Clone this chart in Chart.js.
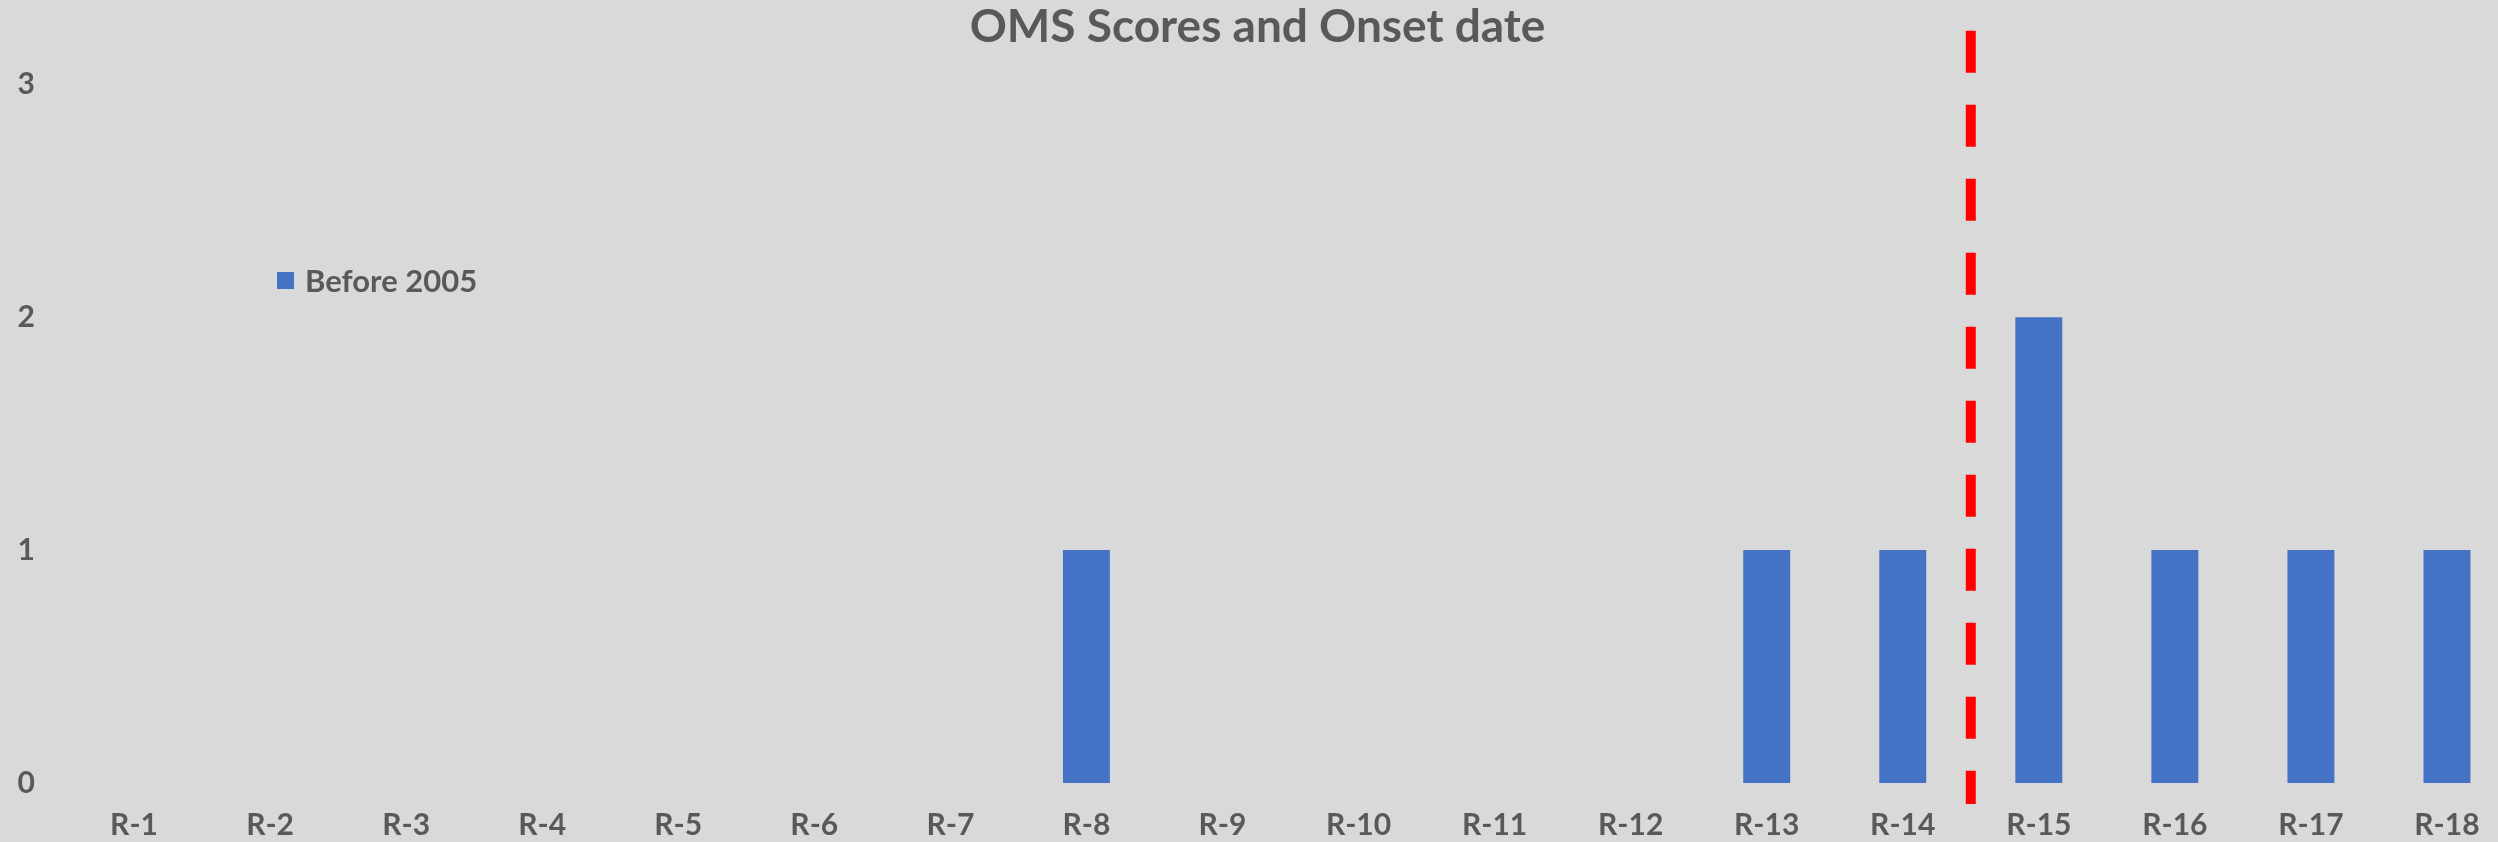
<!DOCTYPE html>
<html>
<head>
<meta charset="utf-8">
<title>OMS Scores and Onset date</title>
<script src="https://cdn.jsdelivr.net/npm/chart.js@4/dist/chart.umd.min.js"></script>
<style>
    html, body {
        margin: 0;
        padding: 0;
        background: #d9d9d9;
        overflow: hidden;
    }
    .wrap {
        position: relative;
        width: 2498px;
        height: 842px;
        overflow: hidden;
    }
    #omsChart {
        display: block;
    }
    #legend {
        position: absolute;
        left: 277px;
        top: 261px;
        font-family: Lato, sans-serif;
        font-weight: bold;
        font-size: 31px;
        color: #595959;
    }
    .legend-item {
        display: flex;
        align-items: center;
    }
    .legend-box {
        width: 17px;
        height: 17px;
        margin-right: 11px;
    }
</style>
</head>
<body>
<div class="wrap">
    <canvas id="omsChart" width="2515" height="842"></canvas>
    <div id="legend"></div>
</div>
<script>
// ---------------------------------------------------------
// DATA
// ---------------------------------------------------------
const categories = ['R-1', 'R-2', 'R-3', 'R-4', 'R-5', 'R-6', 'R-7', 'R-8', 'R-9',
    'R-10', 'R-11', 'R-12', 'R-13', 'R-14', 'R-15', 'R-16', 'R-17', 'R-18'];
const scoresBefore2005 = [0, 0, 0, 0, 0, 0, 0, 1, 0, 0, 0, 0, 1, 1, 2, 1, 1, 1];
const yTickValues = [0, 1, 2, 3];

// onset divider sits between R-14 and R-15 (category index 13.5)
const onsetAt = 13.5;
const onsetSpan = [3.23, -0.09];

const textColor = '#595959';
const barColor = '#4472c4';

// dashed red onset line, placed through the chart scales
const onsetLine = {
    id: 'onsetLine',
    afterDatasetsDraw(chart) {
        const { ctx, scales: { x, y } } = chart;
        const px = x.getPixelForValue(onsetAt);
        ctx.save();
        ctx.strokeStyle = '#ff0000';
        ctx.lineWidth = 10;
        ctx.lineCap = 'butt';
        ctx.setLineDash([42, 32]);
        ctx.beginPath();
        ctx.moveTo(px, y.getPixelForValue(onsetSpan[0]));
        ctx.lineTo(px, y.getPixelForValue(onsetSpan[1]));
        ctx.stroke();
        ctx.restore();
    }
};

const chart = new Chart(document.getElementById('omsChart'), {
    type: 'bar',
    data: {
        labels: categories,
        datasets: [{
            label: 'Before 2005',
            data: scoresBefore2005,
            backgroundColor: barColor,
            borderWidth: 0,
            barPercentage: 0.345,
            categoryPercentage: 1.0
        }]
    },
    options: {
        responsive: false,
        animation: false,
        layout: { padding: 0 },
        plugins: {
            legend: { display: false },
            tooltip: { enabled: false },
            title: {
                display: true,
                text: 'OMS Scores and Onset date',
                color: textColor,
                font: { family: 'Lato', size: 46, weight: 'bold' },
                padding: { top: 0, bottom: 29 }
            }
        },
        scales: {
            x: {
                grid: { display: false, drawTicks: false },
                border: { display: false },
                ticks: {
                    color: textColor,
                    font: { family: 'Lato', size: 30, weight: 'bold' },
                    padding: 24,
                    maxRotation: 0,
                    autoSkip: false
                },
                afterFit: (scale) => { scale.height = 59; }
            },
            y: {
                min: 0,
                max: 3,
                grid: { display: false, drawTicks: false },
                border: { display: false },
                ticks: {
                    color: textColor,
                    font: { family: 'Lato', size: 30, weight: 'bold' },
                    padding: 31
                },
                afterBuildTicks: (scale) => {
                    scale.ticks = yTickValues.map(v => ({ value: v }));
                },
                afterFit: (scale) => { scale.width = 66; }
            }
        }
    },
    plugins: [onsetLine]
});

// manual legend, placed inside the plot like the original
const renderLegend = () => {
    const box = document.getElementById('legend');
    box.innerHTML = chart.data.datasets.map(ds => `
        <div class="legend-item">
            <div class="legend-box" style="background:${ds.backgroundColor}"></div>
            <span>${ds.label}</span>
        </div>
    `).join('');
};
renderLegend();
</script>
</body>
</html>
